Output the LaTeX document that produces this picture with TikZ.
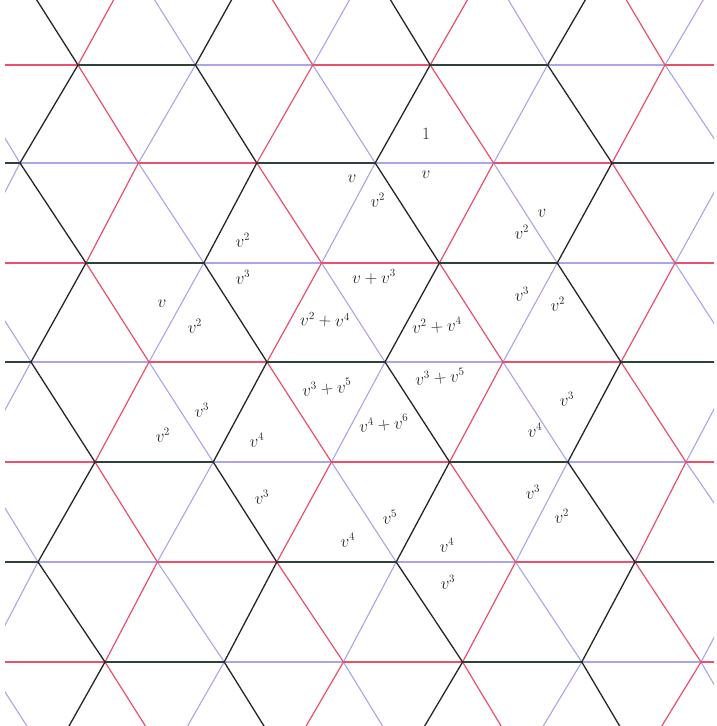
\documentclass[tikz,border=0pt]{standalone}
\definecolor{cblk}{HTML}{262626}
\definecolor{cblkh}{HTML}{2F4236}
\definecolor{cred}{HTML}{E8506E}
\definecolor{cblu}{HTML}{A9A5E6}
\definecolor{ink}{HTML}{262626}
\tikzset{
  lab/.style={font=\fontsize{16}{18}\selectfont, inner sep=0pt, text=ink}
}
\begin{document}
\begin{tikzpicture}[x=1pt,y=-1pt]
\useasboundingbox (0,0) rectangle (717,726);
\fill[white] (0,0) rectangle (717,726);
% lattice vertices: row k, lattice index m (stored as M=m+6, K=k+1)
\foreach \k/\f/\xf/\a/\yy in {-1/-1/14.55/118.2/-35, 0/0/78/117.4/65, 1/0/20/118.4/163, 2/1/86/117.8/263, 3/1/31/118/362, 4/2/95/118.2/462, 5/2/38/119.4/562, 6/3/105/119.2/662, 7/3/49.35/118.2/761}{
  \foreach \m in {-6,...,12}{
    \pgfmathsetmacro\xx{\xf+\a*(\m-\f)}
    \pgfmathtruncatemacro\M{\m+6}
    \pgfmathtruncatemacro\K{\k+1}
    \coordinate (v\M-\K) at (\xx,\yy);
  }
}
\begin{scope}
\clip (5,0) rectangle (714,726);
% passes: 1 = blue, 2 = red, 0 = black
\foreach \p in {1,2,0}{
  \foreach \k in {-1,...,7}{
    \foreach \m in {-6,...,11}{
      \pgfmathtruncatemacro\M{\m+6}
      \pgfmathtruncatemacro\Mn{\m+7}
      \pgfmathtruncatemacro\K{\k+1}
      \pgfmathtruncatemacro\Kn{\k+2}
      \pgfmathtruncatemacro\s{mod(\m+\k+30,3)}
      \pgfmathtruncatemacro\d{mod(\s+2,3)}
      % horizontal edge
      \ifnum\s=\p
        \ifcase\p
          \draw[draw=cblkh,line width=1.5pt] (v\M-\K) -- (v\Mn-\K);
        \or
          \draw[draw=cblu,line width=1.1pt] (v\M-\K) -- (v\Mn-\K);
        \or
          \draw[draw=cred,line width=1.2pt] (v\M-\K) -- (v\Mn-\K);
        \fi
      \fi
      \ifnum\k<7
        % "/" edge
        \ifnum\s=\p
          \ifcase\p
            \draw[draw=cblk,line width=1.3pt] (v\M-\K) -- (v\M-\Kn);
          \or
            \draw[draw=cblu,line width=1.1pt] (v\M-\K) -- (v\M-\Kn);
          \or
            \draw[draw=cred,line width=1.2pt] (v\M-\K) -- (v\M-\Kn);
          \fi
        \fi
        % "\" edge
        \ifnum\d=\p
          \ifcase\p
            \draw[draw=cblk,line width=1.3pt] (v\M-\K) -- (v\Mn-\Kn);
          \or
            \draw[draw=cblu,line width=1.1pt] (v\M-\K) -- (v\Mn-\Kn);
          \or
            \draw[draw=cred,line width=1.2pt] (v\M-\K) -- (v\Mn-\Kn);
          \fi
        \fi
      \fi
    }
  }
}
\end{scope}
% labels
\node[lab] (l1) at (426,134) {$1$};
\node[lab] (l2) at (426,175) {$v$};
\node[lab] (l3) at (352,179) {$v$};
\node[lab,rotate=5] (l4) at (378,200) {$v^{2}$};
\node[lab,rotate=5] (l5) at (243,240) {$v^{2}$};
\node[lab,rotate=4] (l6) at (243,277) {$v^{3}$};
\node[lab] (l7) at (374,277) {$v+v^{3}$};
\node[lab] (l8) at (162,304) {$v$};
\node[lab,rotate=6] (l9) at (195,326) {$v^{2}$};
\node[lab,rotate=6] (l10) at (202,410) {$v^{3}$};
\node[lab,rotate=6] (l11) at (163,435) {$v^{2}$};
\node[lab,rotate=5] (l12) at (257,440) {$v^{4}$};
\node[lab,rotate=-2] (l13) at (325,320) {$v^{2}+v^{4}$};
\node[lab,rotate=4] (l14) at (437,326) {$v^{2}+v^{4}$};
\node[lab,rotate=6] (l15) at (327,388) {$v^{3}+v^{5}$};
\node[lab,rotate=5] (l16) at (440,377) {$v^{3}+v^{5}$};
\node[lab,rotate=6] (l17) at (384,424) {$v^{4}+v^{6}$};
\node[lab,rotate=5] (l18) at (522,232) {$v^{2}$};
\node[lab,rotate=6] (l19) at (542,213) {$v$};
\node[lab,rotate=6] (l20) at (522,294) {$v^{3}$};
\node[lab,rotate=5] (l21) at (558,304) {$v^{2}$};
\node[lab,rotate=6] (l22) at (567,399) {$v^{3}$};
\node[lab,rotate=4] (l23) at (535,430) {$v^{4}$};
\node[lab,rotate=6] (l24) at (533,492) {$v^{3}$};
\node[lab,rotate=5] (l25) at (562,516) {$v^{2}$};
\node[lab,rotate=6] (l26) at (262,497) {$v^{3}$};
\node[lab,rotate=6] (l27) at (390,517) {$v^{5}$};
\node[lab,rotate=5] (l28) at (348,540) {$v^{4}$};
\node[lab,rotate=4] (l29) at (447,545) {$v^{4}$};
\node[lab,rotate=4] (l30) at (448,582) {$v^{3}$};
\end{tikzpicture}
\end{document}
